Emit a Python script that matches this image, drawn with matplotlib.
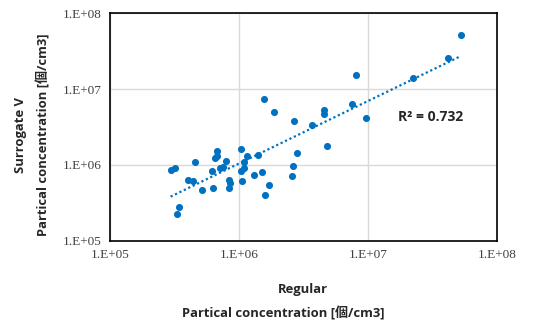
import matplotlib.pyplot as plt
import numpy as np
from matplotlib.ticker import FixedLocator, FixedFormatter, NullLocator

plt.rcParams['font.family'] = ['Open Sans', 'Noto Sans CJK JP', 'DejaVu Sans']

# log10 values
regular_log = [5.470, 5.504, 5.522, 5.537, 5.607, 5.641, 5.656, 5.716, 5.793, 5.796,
               5.827, 5.814, 5.832, 5.853, 5.873, 5.899, 5.920, 5.930, 5.920, 6.013,
               6.018, 6.026, 6.036, 6.041, 6.065, 6.119, 6.147, 6.176, 6.191, 6.204,
               6.230, 6.269, 6.411, 6.421, 6.426, 6.450, 6.566, 6.656, 6.661, 6.685,
               6.873, 6.910, 6.982, 7.351, 7.618, 7.721]
surrogate_log = [5.934, 5.956, 5.348, 5.449, 5.802, 5.789, 6.035, 5.670, 5.925, 5.692,
                 6.189, 6.097, 6.119, 5.965, 5.978, 6.053, 5.802, 5.758, 5.692, 6.216,
                 5.925, 5.789, 6.035, 5.956, 6.115, 5.868, 6.137, 5.907, 6.872, 5.608,
                 5.736, 6.692, 5.855, 5.987, 6.581, 6.163, 6.529, 6.674, 6.718, 6.256,
                 6.802, 7.189, 6.621, 7.150, 7.410, 7.718]
regular = 10 ** np.array(regular_log)
surrogate = 10 ** np.array(surrogate_log)

decades = [1e5, 1e6, 1e7, 1e8]
tick_labels = ['1.E+05', '1.E+06', '1.E+07', '1.E+08']
r2_text = 'R² = 0.732'

blue = '#0070C0'

fig = plt.figure(figsize=(5.45, 3.24), dpi=100)
ax = fig.add_axes([0.2018, 0.257, 0.7102, 0.702])

ax.set_xscale('log')
ax.set_yscale('log')
ax.set_xlim(1e5, 1e8)
ax.set_ylim(1e5, 1e8)

ax.grid(True, color='#d9d9d9', linewidth=1, zorder=0)
ax.scatter(regular, surrogate, s=26, color=blue, zorder=3, linewidths=0)

# power trendline (fit in log space)
k, b = np.polyfit(regular_log, surrogate_log, 1)
xs = np.linspace(min(regular_log), max(regular_log), 50)
ax.plot(10 ** xs, 10 ** (k * xs + b), linestyle=(0, (1, 1.2)), color=blue,
        linewidth=1.6, zorder=2)

ax.text(10 ** 7.23, 10 ** 6.63, r2_text, fontsize=10, fontweight='bold',
        va='center', ha='left', color='#262626')

for axis in (ax.xaxis, ax.yaxis):
    axis.set_major_locator(FixedLocator(decades))
    axis.set_major_formatter(FixedFormatter(tick_labels))
    axis.set_minor_locator(NullLocator())
ax.tick_params(length=0, pad=6)
for lab in ax.get_xticklabels() + ax.get_yticklabels():
    lab.set_family('Liberation Serif')
    lab.set_fontsize(9.5)
    lab.set_color('#404040')
for sp in ax.spines.values():
    sp.set_linewidth(1.2)
    sp.set_color('black')

lbl = dict(fontsize=9.4, fontweight='bold', color='#262626')
fig.text(0.556, 1 - 290 / 324, 'Regular', ha='center', va='center', **lbl)
fig.text(0.520, 1 - 313 / 324, 'Partical concentration [個/cm3]', ha='center', va='center', **lbl)
fig.text(21 / 545, 0.583, 'Surrogate V', rotation=90, ha='center', va='center', **lbl)
fig.text(43 / 545, 0.583, 'Partical concentration [個/cm3]', rotation=90, ha='center', va='center', **lbl)

fig.savefig('out.png', dpi=100)
